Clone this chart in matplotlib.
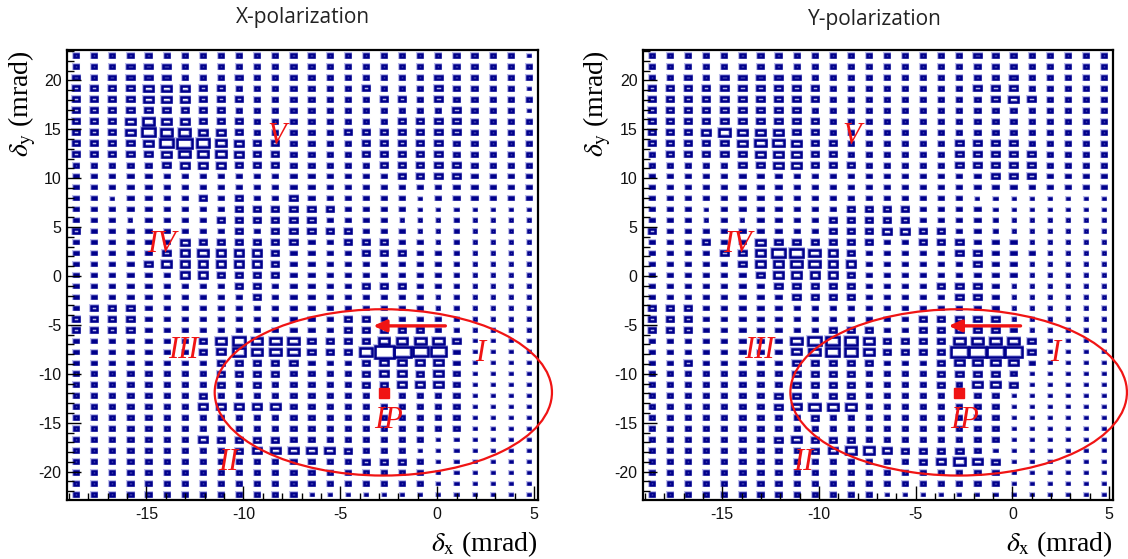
import numpy as np
import matplotlib
matplotlib.use("Agg")
import matplotlib.pyplot as plt
from matplotlib.patches import Rectangle, Ellipse
from matplotlib.collections import PatchCollection
from matplotlib.ticker import MultipleLocator

plt.rcParams["axes.unicode_minus"] = False
plt.rcParams["mathtext.fontset"] = "stix"

# Angular binning (mrad)
dx_range = (-19.1, 5.2)
dy_range = (-22.9, 23.1)
n_dx, n_dy = 26, 41
content_max = 9.0

# Relative bin contents: one string per delta_y row, top row first,
# one digit per delta_x bin from left to right.
x_pol_rows = [
    "22222222222222222222222221",
    "22233322222222222222222222",
    "32333322232222222222322222",
    "33334443322222223222322221",
    "33334443332222222332322222",
    "33333333322222222222232221",
    "33345443332222222233332222",
    "33346554432222233333332222",
    "33334676543322223333322222",
    "33333455543322223333322222",
    "22222344433322222333332222",
    "22222222222222222233332222",
    "22222222222222222222222222",
    "22122223232232222221222222",
    "22222222233333322221111111",
    "22212222333333222211111111",
    "32222222232333332221111111",
    "22222243333332233322111111",
    "22222345444322223332211111",
    "22223444444322222222211111",
    "22222244333322222222211111",
    "22222222233222223332211111",
    "22222222223222222222111111",
    "23332222222222222222111111",
    "33332222222222233222211111",
    "33332222222222233333211111",
    "22222223565553333555531111",
    "22222223465553336987721111",
    "22222222333332223444421111",
    "22222222333322223443421111",
    "22222222323222223344421111",
    "22222223222222222222221111",
    "22222224444422222222221111",
    "22222222222222222222221111",
    "22222222222222222222221111",
    "22222224333322222222111111",
    "22222222234444432221111111",
    "22222222222222223332111111",
    "22222222222222222222111111",
    "22222222222222222222111111",
    "22222222222221111111111111",
]

y_pol_rows = [
    "22222222222222222232222222",
    "22222222222222222222222222",
    "22323333322222222222322222",
    "33333333332222222233322222",
    "33333333332222222223432222",
    "33333333322222222222222222",
    "33333333332222222222222222",
    "33345444332222222222222222",
    "33333455433222222333322222",
    "23333344433222222333332222",
    "22222334433322222333332222",
    "22222222222222222223332222",
    "22222222222222222222222222",
    "22222222222222222211111111",
    "22212222222333322221111111",
    "22212122223333322221111111",
    "32222222223334433221111111",
    "22232243333332233322211111",
    "22223346654322222332221111",
    "22222344554422222232211111",
    "22222234444322222222211111",
    "22222223333322223332111111",
    "22222222333322222332111111",
    "33322222222222222222111111",
    "33322222222222233333111111",
    "33322222223332233333211111",
    "22222222566653333555531111",
    "22222222456653333888831111",
    "22322222333332223444421111",
    "22222222333322223333211111",
    "22222222333322223244311111",
    "22222223323322222222111111",
    "22222223455522222222111111",
    "22222222232222222222111111",
    "22222222222222222222111111",
    "22222223433322222222111111",
    "22222222234554333321111111",
    "22222222222222234543111111",
    "22222222222222222222111111",
    "22222222222222222222111111",
    "22222222222221111111111111",
]

panel_titles = ["X-polarization", "Y-polarization"]
panel_rows = [x_pol_rows, y_pol_rows]

# Region markers
region_labels = ["I", "II", "III", "IV", "V", "IP"]
region_label_x = [2.2, -10.8, -13.1, -14.2, -8.3, -2.5]
region_label_y = [-7.9, -19.1, -7.6, 3.2, 14.3, -14.8]
ip_point = (-2.75, -12.0)
ellipse_center = (-2.78, -11.9)
ellipse_width, ellipse_height = 17.4, 17.0
arrow_tail = (0.42, -5.1)
arrow_head = (-3.3, -5.1)

box_color = "#00008b"
halo_color = "#bcbcec"
mark_color = "#f01414"

fig = plt.figure(figsize=(11.28, 5.59), dpi=100)
W, H = 1128.0, 559.0
axes_px = [(67, 50, 471, 450), (643, 50, 470, 450)]
title_px = [(303, 17), (875, 20)]
ylabel_px = [22, 597]


def draw_boxes(ax, rows):
    z = np.array([[int(c) for c in r] for r in rows], dtype=float)[::-1]
    xe = np.linspace(dx_range[0], dx_range[1], n_dx + 1)
    ye = np.linspace(dy_range[0], dy_range[1], n_dy + 1)
    xc = 0.5 * (xe[:-1] + xe[1:])
    yc = 0.5 * (ye[:-1] + ye[1:])
    bw = xe[1] - xe[0]
    bh = ye[1] - ye[0]
    frac = z / content_max * 1.05
    rects = []
    for i, j in np.argwhere(z > 0):
        w = frac[i, j] * bw
        h = frac[i, j] * bh
        rects.append(Rectangle((xc[j] - w / 2, yc[i] - h / 2), w, h))
    ax.add_collection(PatchCollection(rects, facecolor="none",
                                      edgecolor=halo_color, linewidth=2.9,
                                      joinstyle="miter"))
    ax.add_collection(PatchCollection(rects, facecolor="none",
                                      edgecolor=box_color, linewidth=1.8,
                                      joinstyle="miter"))


for k in range(2):
    l, t, w, h = axes_px[k]
    ax = fig.add_axes([l / W, 1 - (t + h) / H, w / W, h / H])
    draw_boxes(ax, panel_rows[k])
    ax.set_xlim(*dx_range)
    ax.set_ylim(*dy_range)

    ax.xaxis.set_major_locator(MultipleLocator(5))
    ax.xaxis.set_minor_locator(MultipleLocator(1))
    ax.yaxis.set_major_locator(MultipleLocator(5))
    ax.yaxis.set_minor_locator(MultipleLocator(1))
    ax.tick_params(which="both", direction="in", top=False, right=False,
                   width=1.0, color="black")
    ax.tick_params(which="major", length=10)
    ax.tick_params(which="minor", length=5)
    ax.tick_params(axis="both", labelsize=11.5, labelcolor="#111111")
    ax.tick_params(axis="y", pad=4)
    ax.tick_params(axis="x", pad=5)
    for lab in ax.get_xticklabels() + ax.get_yticklabels():
        lab.set_fontfamily("Liberation Sans")
    for s in ax.spines.values():
        s.set_linewidth(1.6)

    ax.text(1.0, -0.097, r"$\delta_{\mathrm{x}}$ (mrad)", transform=ax.transAxes,
            ha="right", va="center", fontsize=20, fontfamily="Liberation Serif")
    ax.text((ylabel_px[k] - l) / w, 1.0, r"$\delta_{\mathrm{y}}$ (mrad)",
            transform=ax.transAxes, rotation=90, ha="center", va="top",
            fontsize=20, fontfamily="Liberation Serif")

    fig.text(title_px[k][0] / W, 1 - title_px[k][1] / H, panel_titles[k],
             ha="center", va="center", fontsize=15, fontfamily="Open Sans",
             color="#222222")

    # Annotations
    ax.add_patch(Ellipse(ellipse_center, ellipse_width, ellipse_height,
                         facecolor="none", edgecolor=mark_color, linewidth=1.6,
                         clip_on=False, zorder=5))
    ax.annotate("", xy=arrow_head, xytext=arrow_tail,
                arrowprops=dict(arrowstyle="-|>,head_length=0.55,head_width=0.25",
                                color=mark_color, lw=2.4, mutation_scale=14,
                                shrinkA=0, shrinkB=0), zorder=6)
    ax.plot([ip_point[0]], [ip_point[1]], marker="s", color=mark_color,
            markersize=7.5, linestyle="none", zorder=6)
    for txt, tx, ty in zip(region_labels, region_label_x, region_label_y):
        ax.text(tx, ty, txt, color=mark_color, fontsize=22, style="italic",
                fontfamily="Liberation Serif", ha="center", va="center",
                zorder=7)

fig.savefig("out.png", dpi=100)
